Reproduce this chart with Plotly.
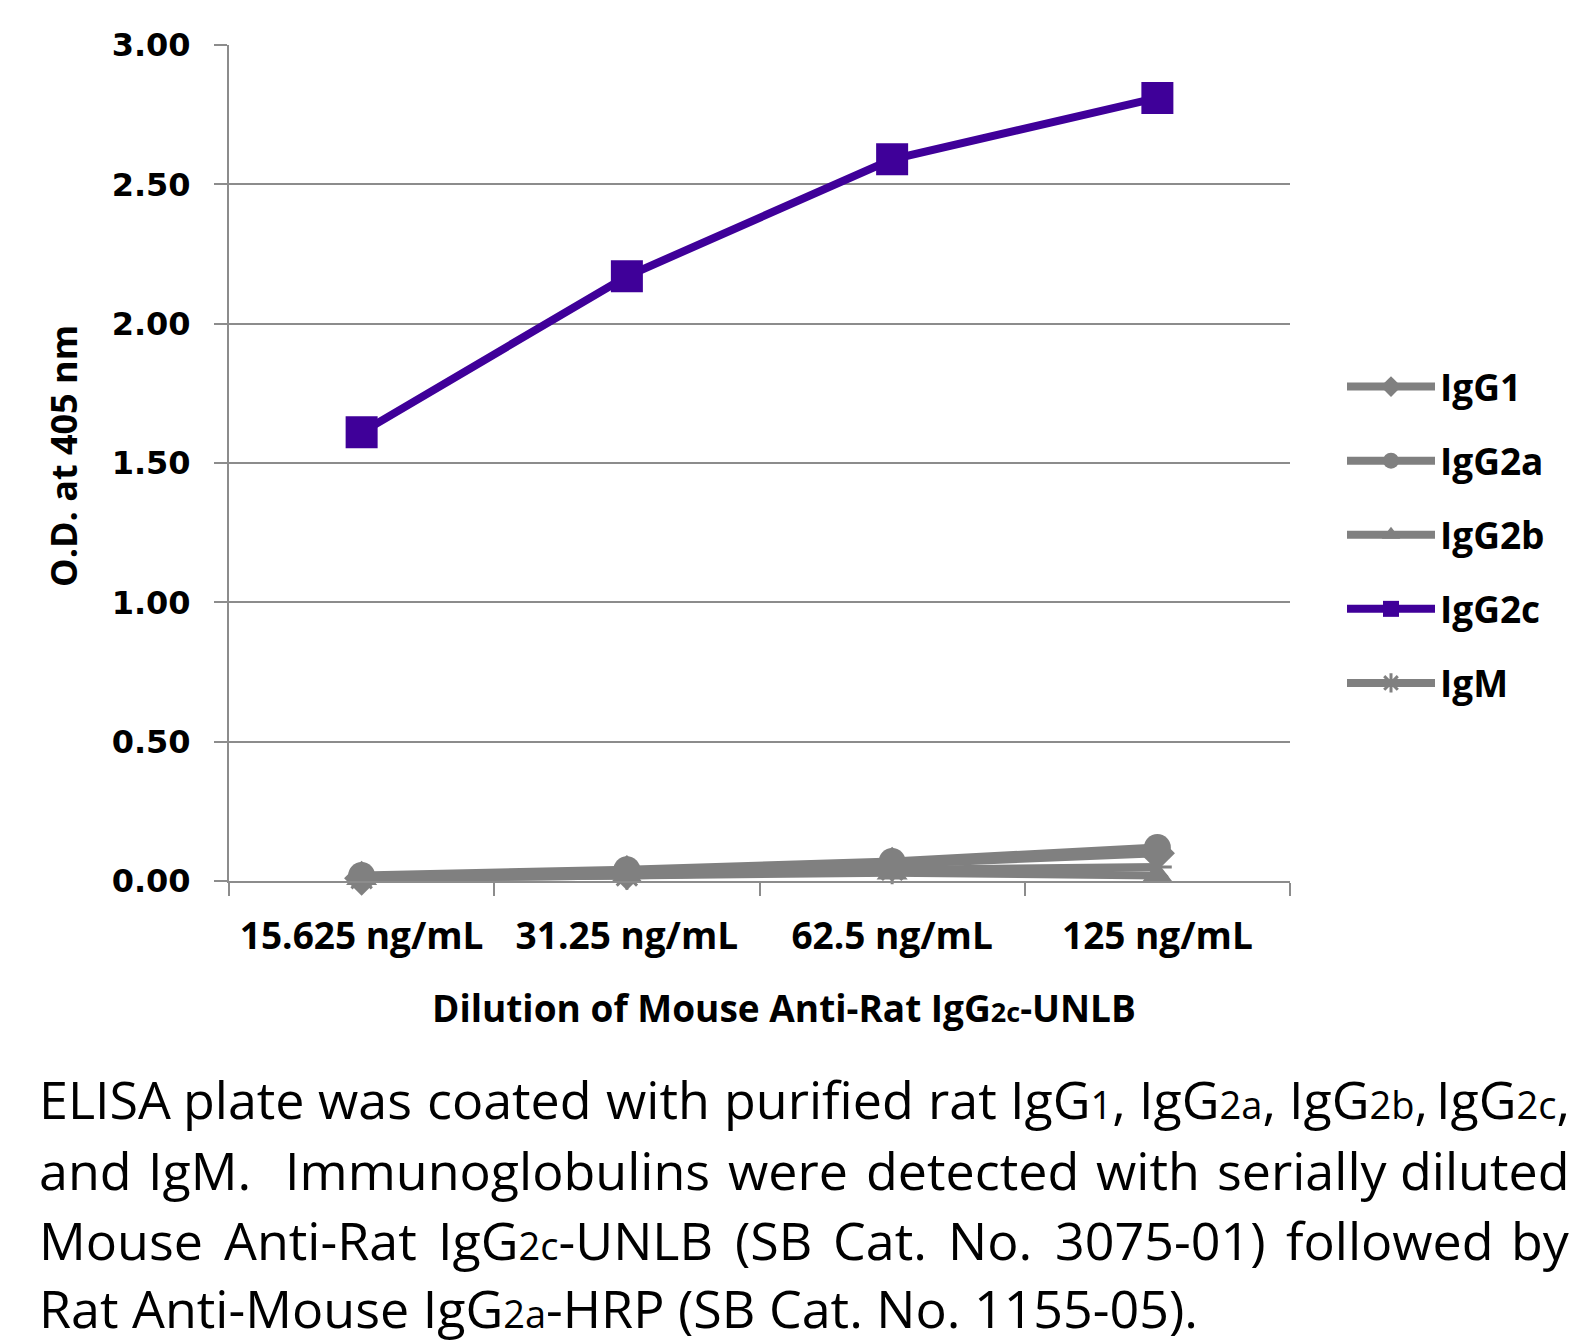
import plotly.graph_objects as go

# ---------------- data ----------------
categories = ["15.625 ng/mL", "31.25 ng/mL", "62.5 ng/mL", "125 ng/mL"]
igg1 = [0.01, 0.03, 0.06, 0.10]
igg2a = [0.02, 0.04, 0.07, 0.12]
igg2b = [0.01, 0.02, 0.03, 0.02]
igg2c = [1.61, 2.17, 2.59, 2.81]
igm = [0.01, 0.02, 0.04, 0.05]
y_ticks = [0, 0.5, 1.0, 1.5, 2.0, 2.5, 3.0]
series_names = ["IgG1", "IgG2a", "IgG2b", "IgG2c", "IgM"]

# ---------------- layout constants ----------------
W, H = 1590, 1344
OFF = 8  # default page body margin
L, R, T, B = 229, 1290, 45, 881   # plot area in page pixels
GRAY = "#808080"
AXIS = "#8c8c8c"
PURPLE = "#3F0099"
S = 1590 / 1568


def px(x):
    return (x - L) / (R - L)


def py(y):
    return (B - y) / (B - T)


CAP_SIZE = 52
SUB_SIZE = 38


def sub(s, size=SUB_SIZE):
    return f"<span style='font-size:{size}px'>{s}</span>"


styles = {
    "IgG1": (GRAY, "diamond", 27),
    "IgG2a": (GRAY, "circle", 27),
    "IgG2b": (GRAY, "triangle-up", 27),
    "IgG2c": (PURPLE, "square", 32),
    "IgM": (GRAY, "asterisk-open", 24),
}
values = {"IgG1": igg1, "IgG2a": igg2a, "IgG2b": igg2b, "IgG2c": igg2c, "IgM": igm}

fig = go.Figure()
for name in series_names:
    color, symbol, size = styles[name]
    fig.add_trace(go.Scatter(
        x=categories, y=values[name], name=name, mode="lines+markers",
        legendgroup=name, cliponaxis=False,
        line=dict(color=color, width=8),
        marker=dict(symbol=symbol, size=size, color=color,
                    line=dict(color=color, width=3 if symbol == "asterisk-open" else 0)),
    ))

annotations = []
annotations.append(dict(
    text="Dilution of Mouse Anti-Rat IgG" + sub("2c", 27) + "-UNLB",
    x=px(784), y=py(1007), xref="paper", yref="paper", showarrow=False,
    xanchor="center", yanchor="middle",
    font=dict(family="Open Sans", size=37, color="black", weight="bold")))
annotations.append(dict(
    text="O.D. at 405 nm", x=px(63), y=py(456), xref="paper", yref="paper",
    showarrow=False, textangle=-90, xanchor="center", yanchor="middle",
    font=dict(family="Open Sans", size=36, color="black", weight="bold")))

# ---- caption: approximate Open Sans advance widths (em) for justification ----
CW = {" ": .26, "a": .556, "b": .613, "c": .49, "d": .613, "e": .561, "f": .339, "g": .548,
      "h": .614, "i": .253, "l": .253, "m": .93, "n": .614, "o": .604, "p": .613, "r": .408,
      "s": .477, "t": .353, "u": .614, "w": .788, "y": .504, "A": .633, "B": .648, "C": .631,
      "D": .729, "E": .546, "G": .726, "H": .742, "I": .267, "L": .502, "M": .903, "N": .778,
      "P": .613, "R": .635, "S": .556, "U": .732, ".": .266, ",": .245, "-": .322, "(": .282,
      ")": .282}
for d in "0123456789":
    CW[d] = .572


def width(parts):
    tot = 0.0
    for txt, is_sub in parts:
        size = SUB_SIZE if is_sub else CAP_SIZE
        tot += sum(CW.get(ch, .55) for ch in txt) * size
    return tot


def markup(parts):
    return "".join(sub(t) if s else t for t, s in parts)


def w_(txt, *subs):
    # word made of normal text followed by alternating (subscript, trailing) pieces
    parts = [(txt, False)]
    for i, s in enumerate(subs):
        parts.append((s, i % 2 == 0))
    return [p for p in parts if p[0]]


cap_lines = [
    (1099, [w_("ELISA"), w_("plate"), w_("was"), w_("coated"), w_("with"), w_("purified"),
            w_("rat"), w_("IgG", "1", ","), w_("IgG", "2a", ","), w_("IgG", "2b", ","),
            w_("IgG", "2c", ",")], [1] * 10),
    (1169, [w_("and"), w_("IgM."), w_("Immunoglobulins"), w_("were"), w_("detected"),
            w_("with"), w_("serially"), w_("diluted")], [1, 2, 1, 1, 1, 1, 1]),
    (1239, [w_("Mouse"), w_("Anti-Rat"), w_("IgG", "2c", "-UNLB"), w_("(SB"), w_("Cat."),
            w_("No."), w_("3075-01)"), w_("followed"), w_("by")], [1] * 8),
]
X0, X1 = 36 * S, 1550 * S
cap_font = dict(family="Open Sans", size=CAP_SIZE, color="black")
for yc, words, gaps in cap_lines:
    widths = [width(p) for p in words]
    gap_unit = (X1 - X0 - sum(widths)) / sum(gaps)
    x = X0
    for i, p in enumerate(words):
        if i == len(words) - 1:
            annotations.append(dict(text=markup(p), x=px(X1), y=py(yc), xref="paper",
                                    yref="paper", showarrow=False, xanchor="right",
                                    yanchor="middle", font=cap_font))
        else:
            annotations.append(dict(text=markup(p), x=px(x), y=py(yc), xref="paper",
                                    yref="paper", showarrow=False, xanchor="left",
                                    yanchor="middle", font=cap_font))
            x += widths[i] + gaps[i] * gap_unit
annotations.append(dict(
    text="Rat Anti-Mouse IgG" + sub("2a") + "-HRP (SB Cat. No. 1155-05).",
    x=px(X0), y=py(1308), xref="paper", yref="paper", showarrow=False,
    xanchor="left", yanchor="middle", font=cap_font))

fig.update_layout(
    width=W, height=H,
    margin=dict(l=L - OFF, r=W - (R - OFF), t=T - OFF, b=H - (B - OFF), autoexpand=False),
    paper_bgcolor="white", plot_bgcolor="white",
    showlegend=True,
    legend=dict(x=px(1342), y=py(356), xanchor="left", yanchor="top",
                font=dict(family="Open Sans", size=37, color="black", weight="bold"),
                itemwidth=88, tracegroupgap=23, bgcolor="rgba(0,0,0,0)"),
    xaxis=dict(type="category", categoryorder="array", categoryarray=categories,
               range=[-0.5, 3.5], showgrid=False, showline=True, linecolor=AXIS, linewidth=2,
               ticks="outside", tickson="boundaries", ticklen=13, tickwidth=2, tickcolor=AXIS,
               ticklabelstandoff=22,
               tickfont=dict(family="Open Sans", size=37, color="black", weight="bold")),
    yaxis=dict(range=[0, 3], tickvals=y_ticks, tickformat=".2f", showgrid=True,
               gridcolor=AXIS, gridwidth=2, zeroline=False, showline=True, linecolor=AXIS,
               linewidth=2, ticks="outside", ticklen=13, tickwidth=2, tickcolor=AXIS,
               ticklabelstandoff=17,
               tickfont=dict(family="DejaVu Sans", size=32, color="black", weight="bold")),
    annotations=annotations,
)

fig.write_html("out.html")
